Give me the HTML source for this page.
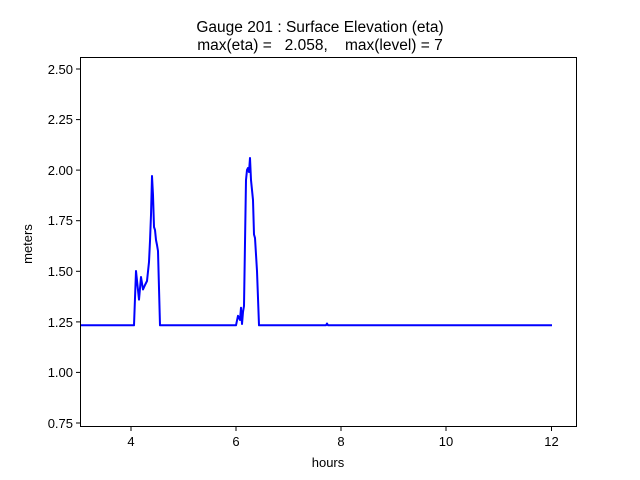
<!DOCTYPE html>
<html><head><meta charset="utf-8"><style>
html,body{margin:0;padding:0;background:#fff;}
svg{display:block;font-family:"Liberation Sans","DejaVu Sans",sans-serif;}
</style></head><body>
<svg width="640" height="480" viewBox="0 0 640 480" xmlns="http://www.w3.org/2000/svg">
<rect width="640" height="480" fill="#fff"/>
<text x="320" y="32" font-size="15.5" text-anchor="middle">Gauge 201 : Surface Elevation (eta)</text>
<text x="320" y="50" font-size="15.5" text-anchor="middle" xml:space="preserve">max(eta) =   2.058,    max(level) = 7</text>
<polyline fill="none" stroke="#0000ff" stroke-width="2" stroke-linejoin="round" points="
80,325.3 134,325.3 136,271 139,299.6 141,277 143,289.5 145,285 147,281 149,262 150,241 151,215 152,176 153,195 154,227 155,230 156,240 157,245 158,251 160,325.3
236,325.3 238,315.8 240,320 241,307.7 242,324 243,312 244,306 246,180 247,170 248,168 249,172 250,158 251,180 253,200 254,234.5 255,238 257,271 259,325.3
326,325.3 327,323.5 328,325.3 552,325.3"/>
<rect x="80.5" y="57.5" width="496" height="369" fill="none" stroke="#000" stroke-width="1"/>
<g font-size="13" text-anchor="middle">
<line x1="131" y1="427" x2="131" y2="431" stroke="#000"/><text x="131" y="446">4</text>
<line x1="236" y1="427" x2="236" y2="431" stroke="#000"/><text x="236" y="446">6</text>
<line x1="341" y1="427" x2="341" y2="431" stroke="#000"/><text x="341" y="446">8</text>
<line x1="446" y1="427" x2="446" y2="431" stroke="#000"/><text x="446" y="446">10</text>
<line x1="551.5" y1="427" x2="551.5" y2="431" stroke="#000"/><text x="551.5" y="446">12</text>
<text x="328" y="467">hours</text>
</g>
<g font-size="13" text-anchor="end">
<line x1="76" y1="423" x2="80" y2="423" stroke="#000"/><text x="73" y="428">0.75</text>
<line x1="76" y1="372.4" x2="80" y2="372.4" stroke="#000"/><text x="73" y="377">1.00</text>
<line x1="76" y1="321.9" x2="80" y2="321.9" stroke="#000"/><text x="73" y="327">1.25</text>
<line x1="76" y1="271.3" x2="80" y2="271.3" stroke="#000"/><text x="73" y="276">1.50</text>
<line x1="76" y1="220.7" x2="80" y2="220.7" stroke="#000"/><text x="73" y="225">1.75</text>
<line x1="76" y1="170.1" x2="80" y2="170.1" stroke="#000"/><text x="73" y="175">2.00</text>
<line x1="76" y1="119.6" x2="80" y2="119.6" stroke="#000"/><text x="73" y="124">2.25</text>
<line x1="76" y1="69" x2="80" y2="69" stroke="#000"/><text x="73" y="74">2.50</text>
</g>
<text x="32" y="244" font-size="13" text-anchor="middle" transform="rotate(-90 32 244)">meters</text>
</svg>
</body></html>
